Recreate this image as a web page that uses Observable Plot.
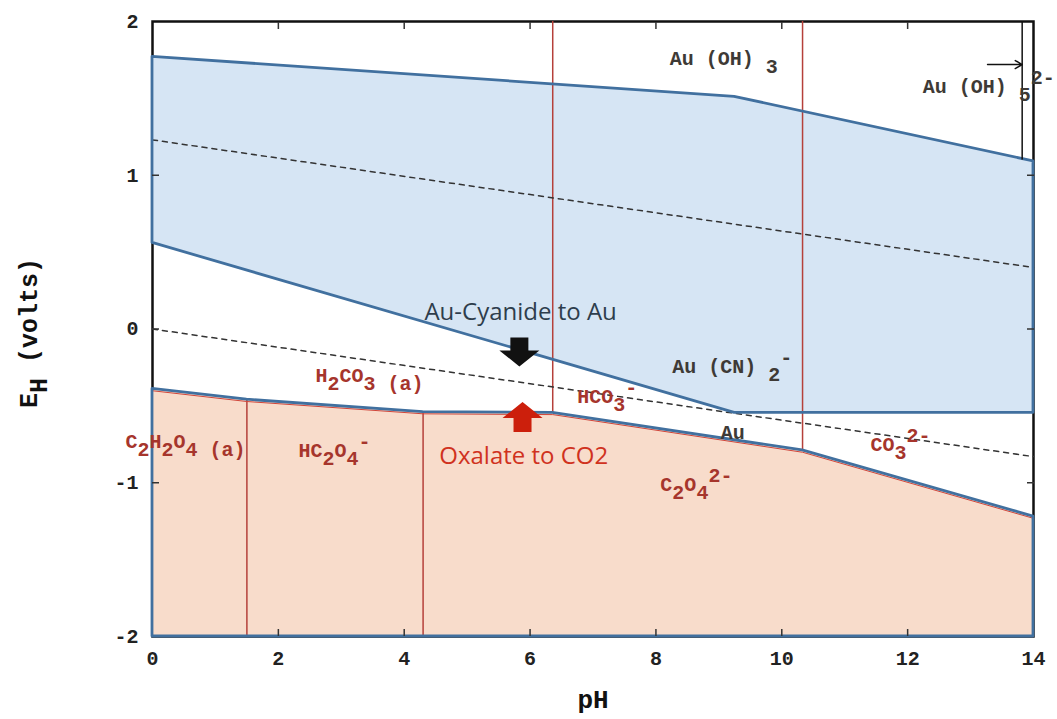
<!DOCTYPE html>
<html><head><meta charset="utf-8">
<script src="https://cdn.jsdelivr.net/npm/d3@7"></script>
<script src="https://cdn.jsdelivr.net/npm/@observablehq/plot@0.6"></script>
<style>
body{margin:0;background:#fff;}
#chart svg{display:block;}
</style></head><body><div id="chart"></div>
<script>
// ---- tick labels ----
const xTickValues = [0, 2, 4, 6, 8, 10, 12, 14];
const yTickValues = [-2, -1, 0, 1, 2];
const innerXTicks = [2, 4, 6, 8, 10, 12];
const innerYTicks = [-1, 0, 1];

// ---- Au(CN)2- stability field ----
const cyanidePH = [0, 9.25, 14];
const cyanideUpperE = [1.77, 1.51, 1.09];
const cyanideLowerE = [0.56, -0.545, -0.545];

// ---- oxalate field ----
const oxalatePH = [0, 1.5, 4.3, 6.36, 10.33, 14];
const oxalateUpperE = [-0.39, -0.46, -0.54, -0.545, -0.79, -1.22];
const oxalateLowerE = [-2, -2, -2, -2, -2, -2];

// ---- water stability lines ----
const waterPH = [0, 14];
const oxygenLineE = [1.23, 0.40];
const hydrogenLineE = [0, -0.83];

// ---- carbon species vertical boundaries ----
const boundaryPH = [1.5, 4.3, 6.36, 10.33];
const boundaryLowE = [-2, -2, -0.545, -0.79];
const boundaryHighE = [-0.46, -0.54, 2, 2];

// ---- Au(OH)5 2- boundary and pointer ----
const auOH5PH = [13.82];
const auOH5LowE = [1.10];
const auOH5HighE = [2];
const pointerStartPH = [13.27];
const pointerEndPH = [13.82];
const pointerE = [1.72];

// ---- labels ----
const goldLabels = ["Au (OH) _{3}", "Au (OH) _{5}^{2-}", "Au (CN) _{2}^{-}", "Au"];
const goldLabelPH = [8.22, 12.24, 8.26, 9.03];
const goldLabelE = [1.76, 1.578, -0.247, -0.673];

const carbonLabels = ["H_{2}CO_{3 (a)}", "HCO_{3}^{-}", "CO_{3}^{2-}", "C_{2}H_{2}O_{4 (a)}", "HC_{2}O_{4}^{-}", "C_{2}O_{4}^{2-}"];
const carbonLabelPH = [2.59, 6.75, 11.41, -0.43, 2.32, 8.07];
const carbonLabelE = [-0.30, -0.44, -0.755, -0.735, -0.79, -1.01];

const noteLabels = ["Au-Cyanide to Au", "Oxalate to CO2"];
const notePH = [5.85, 5.90];
const noteE = [0.11, -0.826];
const noteColors = ["#2e3d4c", "#d0321e"];

const arrowPH = [5.83, 5.88];
const arrowE = [-0.146, -0.573];

// ---- build tables ----
const cyanide = cyanidePH.map((p, i) => ({pH: p, top: cyanideUpperE[i], bottom: cyanideLowerE[i]}));
const oxalate = oxalatePH.map((p, i) => ({pH: p, top: oxalateUpperE[i], bottom: oxalateLowerE[i]}));
const o2 = waterPH.map((p, i) => ({pH: p, E: oxygenLineE[i]}));
const h2 = waterPH.map((p, i) => ({pH: p, E: hydrogenLineE[i]}));
const bounds = boundaryPH.map((p, i) => ({pH: p, lo: boundaryLowE[i], hi: boundaryHighE[i]}));
const auOH5 = auOH5PH.map((p, i) => ({pH: p, lo: auOH5LowE[i], hi: auOH5HighE[i]}));
const pointer = pointerE.map((e, i) => ({x1: pointerStartPH[i], x2: pointerEndPH[i], E: e}));
const gold = goldLabels.map((t, i) => ({t, pH: goldLabelPH[i], E: goldLabelE[i]}));
const carbon = carbonLabels.map((t, i) => ({t, pH: carbonLabelPH[i], E: carbonLabelE[i]}));
const notes = noteLabels.map((t, i) => ({t, pH: notePH[i], E: noteE[i], c: noteColors[i]}));
const arrowsDown = [{pH: arrowPH[0], E: arrowE[0]}];
const arrowsUp = [{pH: arrowPH[1], E: arrowE[1]}];

const arrowDown = {draw(ctx) {
  ctx.moveTo(-9, -14); ctx.lineTo(9, -14); ctx.lineTo(9, -1); ctx.lineTo(20, -1);
  ctx.lineTo(0, 15); ctx.lineTo(-20, -1); ctx.lineTo(-9, -1); ctx.closePath();
}};
const arrowUp = {draw(ctx) {
  ctx.moveTo(0, -15); ctx.lineTo(20, 1); ctx.lineTo(9, 1); ctx.lineTo(9, 15);
  ctx.lineTo(-9, 15); ctx.lineTo(-9, 1); ctx.lineTo(-20, 1); ctx.closePath();
}};

const blueStroke = "#41709f";
const redLine = "#b5403a";
const fmt = d => String(d);

const chart = Plot.plot({
  width: 1057, height: 719,
  marginLeft: 152, marginRight: 24, marginTop: 21, marginBottom: 83,
  style: {fontFamily: "Liberation Mono", background: "white", color: "#222"},
  x: {domain: [0, 14], label: null},
  y: {domain: [-2, 2], label: null},
  marks: [
    Plot.frame({stroke: "#111", strokeWidth: 2.5}),
    Plot.areaY(cyanide, {x: "pH", y1: "bottom", y2: "top", fill: "#d6e5f4"}),
    Plot.areaY(oxalate, {x: "pH", y1: "bottom", y2: "top", fill: "#f8dccb"}),
    Plot.ruleX(bounds, {x: "pH", y1: "lo", y2: "hi", stroke: redLine, strokeWidth: 1.5}),
    Plot.line(o2, {x: "pH", y: "E", stroke: "#333", strokeWidth: 1.5, strokeDasharray: "5,5"}),
    Plot.line(h2, {x: "pH", y: "E", stroke: "#333", strokeWidth: 1.5, strokeDasharray: "5,5"}),
    Plot.line(oxalate, {x: "pH", y: "top", stroke: "#d0453a", strokeWidth: 1, dy: 1.8}),
    Plot.areaY(cyanide, {x: "pH", y1: "bottom", y2: "top", fill: "none", stroke: blueStroke, strokeWidth: 2.8}),
    Plot.areaY(oxalate, {x: "pH", y1: "bottom", y2: "top", fill: "none", stroke: blueStroke, strokeWidth: 2.8}),
    Plot.ruleX(auOH5, {x: "pH", y1: "lo", y2: "hi", stroke: "#111", strokeWidth: 1.5}),
    Plot.arrow(pointer, {x1: "x1", x2: "x2", y1: "E", y2: "E", stroke: "#111", strokeWidth: 1.5, headLength: 8}),
    // axes
    Plot.axisX({anchor: "bottom", ticks: innerXTicks, tickSize: -7, tickFormat: () => null, label: null, stroke: "#333", strokeWidth: 1.5}),
    Plot.axisX({anchor: "top", ticks: innerXTicks, tickSize: -7, tickFormat: () => null, label: null, stroke: "#333", strokeWidth: 1.5}),
    Plot.axisY({anchor: "left", ticks: innerYTicks, tickSize: -7, tickFormat: () => null, label: null, stroke: "#333", strokeWidth: 1.5}),
    Plot.axisY({anchor: "right", ticks: innerYTicks, tickSize: -7, tickFormat: () => null, label: null, stroke: "#333", strokeWidth: 1.5}),
    Plot.axisX({anchor: "bottom", ticks: xTickValues, tickSize: 0, tickPadding: 14, tickFormat: fmt, label: null, fontSize: 20, fontWeight: "bold", fill: "#222"}),
    Plot.axisY({anchor: "left", ticks: yTickValues, tickSize: 0, tickPadding: 14, tickFormat: fmt, label: null, fontSize: 20, fontWeight: "bold", fill: "#222"}),
    Plot.text(["E_{H} (volts)"], {frameAnchor: "left", dx: -124, dy: 4, rotate: -90, textAnchor: "middle", text: d => d, fontSize: 25, fontWeight: "bold", fill: "#111", letterSpacing: 3}),
    Plot.text(["pH"], {frameAnchor: "bottom", dy: 71, text: d => d, fontSize: 26, fontWeight: "bold", fill: "#111", letterSpacing: 2}),
    // labels
    Plot.text(gold, {x: "pH", y: "E", text: "t", textAnchor: "start", fontSize: 20, fontWeight: "bold", fill: "#3e3a36"}),
    Plot.text(carbon, {x: "pH", y: "E", text: "t", textAnchor: "start", fontSize: 20, fontWeight: "bold", fill: "#a6352c"}),
    Plot.text(notes, {x: "pH", y: "E", text: "t", fill: "c", fontFamily: "Open Sans", fontSize: 24, letterSpacing: 0.8}),
    Plot.dot(arrowsDown, {x: "pH", y: "E", symbol: arrowDown, fill: "#111", stroke: "none"}),
    Plot.dot(arrowsUp, {x: "pH", y: "E", symbol: arrowUp, fill: "#cc1f0c", stroke: "none"})
  ]
});

// render chemical sub/superscripts as tspans
d3.select(chart).selectAll("text").each(function() {
  const s = this.textContent;
  if (!/[_^]\{/.test(s)) return;
  const parts = s.split(/([_^]\{[^}]*\})/).filter(p => p !== "");
  this.textContent = "";
  let cur = 0;
  for (const p of parts) {
    let target = 0, t = p;
    if (p[0] === "_") { target = 0.4; t = p.slice(2, -1); }
    else if (p[0] === "^") { target = -0.45; t = p.slice(2, -1); }
    const ts = document.createElementNS("http://www.w3.org/2000/svg", "tspan");
    if (target !== cur) ts.setAttribute("dy", (target - cur).toFixed(2) + "em");
    ts.textContent = t;
    this.appendChild(ts);
    cur = target;
  }
});

document.getElementById("chart").appendChild(chart);
</script></body></html>
